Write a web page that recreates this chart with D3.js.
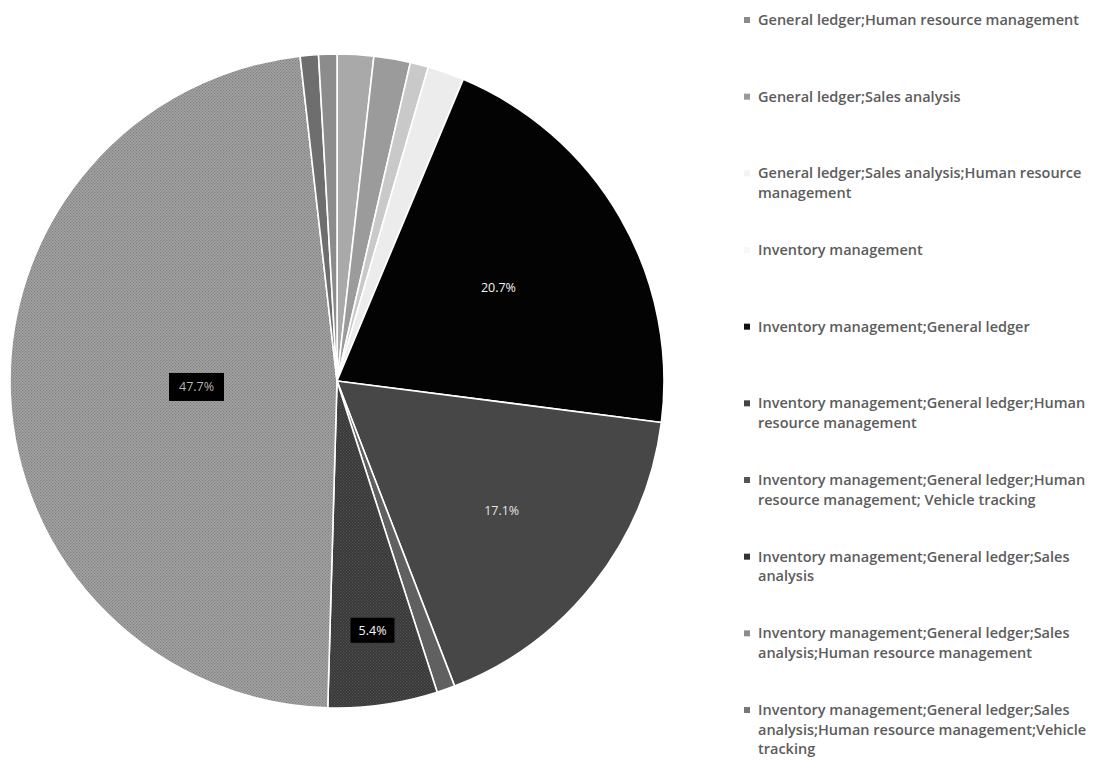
<!DOCTYPE html>
<html>
<head>
<meta charset="utf-8">
<script src="https://cdn.jsdelivr.net/npm/d3@7"></script>
<style>
  html, body { margin: 0; padding: 0; background: #fff; }
  svg { display: block; }
</style>
</head>
<body>
<svg id="chart" width="1099" height="760"></svg>
<script>
// Modules in use (respondent counts)
const categories = [
  "General ledger;Human resource management",
  "General ledger;Sales analysis",
  "General ledger;Sales analysis;Human resource management",
  "Inventory management",
  "Inventory management;General ledger",
  "Inventory management;General ledger;Human resource management",
  "Inventory management;General ledger;Human resource management; Vehicle tracking",
  "Inventory management;General ledger;Sales analysis",
  "Inventory management;General ledger;Sales analysis;Human resource management",
  "Inventory management;General ledger;Sales analysis;Human resource management;Vehicle tracking",
  "Inventory management;Sales analysis"
];
const counts = [2, 2, 1, 2, 23, 19, 1, 6, 53, 1, 1];

// Slice fills (greyscale), in category order
const fills = ["#a9a9a9", "#9b9b9b", "#c9c9c9", "#ececec", "#030303", "#474747",
               "#606060", "url(#dotsDark)", "url(#dotsLight)", "#6e6e6e", "#8c8c8c"];
const markerFills = ["#8a8a8a", "#9a9a9a", "#f4f4f4", "#f7f7f7", "#111", "#444",
                     "#555", "#333", "#8d8d8d", "#777", "#8c8c8c"];

// Label layout: radial position as a fraction of the radius, and whether the label sits in a box
const labelRadiusFrac = { 4: 0.57, 5: 0.64, 7: 0.77, 8: 0.43 };
const boxedLabels = new Set([7, 8]);
const legendCount = 10;

const svg = d3.select("#chart");
const defs = svg.append("defs");

function dotPattern(id, bg, dot) {
  const p = defs.append("pattern").attr("id", id)
    .attr("width", 3).attr("height", 3).attr("patternUnits", "userSpaceOnUse");
  p.append("rect").attr("width", 3).attr("height", 3).attr("fill", bg);
  p.append("rect").attr("x", 0).attr("y", 0).attr("width", 1.2).attr("height", 1.2).attr("fill", dot);
  p.append("rect").attr("x", 1.5).attr("y", 1.5).attr("width", 1.2).attr("height", 1.2).attr("fill", dot);
}
dotPattern("dotsLight", "#a4a4a4", "#7c7c7c");
dotPattern("dotsDark", "#363636", "#555555");

const cx = 337, cy = 381, R = 327;
const total = d3.sum(counts);
const pct = d3.format(".1%");

const pie = d3.pie().sort(null).value(d => d)(counts);
const arc = d3.arc().innerRadius(0).outerRadius(R);

const g = svg.append("g").attr("transform", `translate(${cx},${cy})`);

g.selectAll("path.slice")
  .data(pie)
  .join("path")
  .attr("class", "slice")
  .attr("d", arc)
  .attr("fill", (d, i) => fills[i])
  .attr("stroke", "#fff")
  .attr("stroke-width", 1.6)
  .attr("stroke-linejoin", "round");

// Percentage labels for the larger slices
const labelled = pie.map((d, i) => ({ d, i })).filter(o => labelRadiusFrac[o.i] !== undefined);
labelled.forEach(({ d, i }) => {
  const r = R * labelRadiusFrac[i];
  const c = d3.arc().innerRadius(r).outerRadius(r).centroid(d);
  const lg = g.append("g").attr("transform", `translate(${c[0]},${c[1]})`);
  const txt = pct(d.value / total);
  if (boxedLabels.has(i)) {
    const w = i === 8 ? 55 : 44, h = i === 8 ? 28 : 25;
    lg.append("rect").attr("x", -w / 2).attr("y", -h / 2).attr("width", w).attr("height", h)
      .attr("fill", "#000");
  }
  lg.append("text")
    .attr("text-anchor", "middle")
    .attr("dy", "0.36em")
    .attr("font-family", "'Open Sans', 'DejaVu Sans', sans-serif")
    .attr("font-size", 12.5)
    .attr("fill", i === 8 ? "#b5b5b5" : (i === 5 ? "#e4e4e4" : "#f4f4f4"))
    .text(txt);
});

// Legend
const legendY = d3.scalePoint()
  .domain(categories.slice(0, legendCount))
  .range([20, 710]);

const legend = svg.append("g").attr("font-family", "'Open Sans', 'DejaVu Sans', sans-serif")
  .attr("font-size", 14.5).attr("font-weight", 600).attr("fill", "#5c5c5c");

const maxW = 338;
categories.slice(0, legendCount).forEach((name, i) => {
  const y = legendY(name);
  const row = legend.append("g").attr("transform", `translate(744,${y})`);
  row.append("rect").attr("x", 0).attr("y", -3).attr("width", 6).attr("height", 6)
    .attr("fill", markerFills[i]);
  const t = row.append("text").attr("x", 14).attr("y", 0);
  // greedy wrap at spaces
  const words = name.split(" ");
  let line = [], lines = [];
  const probe = t.append("tspan");
  words.forEach(w => {
    const test = line.concat(w).join(" ");
    probe.text(test);
    if (probe.node().getComputedTextLength() > maxW && line.length) {
      lines.push(line.join(" "));
      line = [w];
    } else line.push(w);
  });
  lines.push(line.join(" "));
  probe.remove();
  lines.forEach((l, k) => {
    t.append("tspan").attr("x", 14).attr("y", k * 19.5).attr("dy", "0.35em").text(l);
  });
});
</script>
</body>
</html>
